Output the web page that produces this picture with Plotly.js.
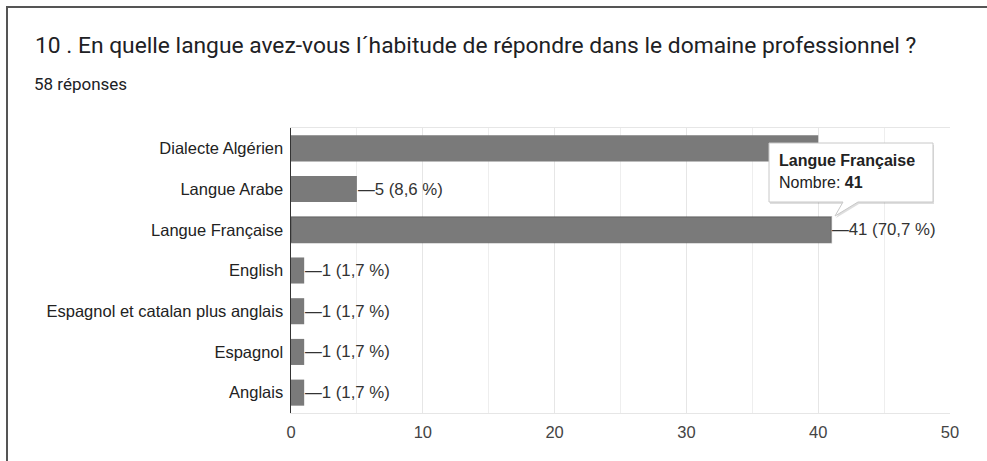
<!DOCTYPE html>
<html>
<head>
<meta charset="utf-8">
<script src="https://cdn.plot.ly/plotly-3.0.1.min.js"></script>
<style>
html,body{margin:0;padding:0;background:#fff;}
#chart{width:987px;height:461px;}
</style>
</head>
<body>
<div id="chart"></div>
<script>
// ---- data ----
const categories = ["Dialecte Algérien", "Langue Arabe", "Langue Française", "English",
  "Espagnol et catalan plus anglais", "Espagnol", "Anglais"];
const counts = [40, 5, 41, 1, 1, 1, 1];
const percents = ["69 %", "8,6 %", "70,7 %", "1,7 %", "1,7 %", "1,7 %", "1,7 %"];
const xTicks = [0, 10, 20, 30, 40, 50];
const titleText = "10 . En quelle langue avez-vous l´habitude de répondre dans le domaine professionnel ?";
const subtitleText = "58 réponses";
const tooltipTitle = "Langue Française";
const tooltipLabel = "Nombre";
const tooltipIndex = 2;
const hiddenLabelIndex = 0; // covered by the tooltip in the reference

// ---- layout helpers (pixel -> paper) ----
const W = 987, H = 461;
const L = 291, R = 950, T = 128, B = 413;
const px = x => (x - L) / (R - L);
const py = y => (B - y) / (B - T);

const barColors = categories.map(() => "#7a7a7a");
const lineW = categories.map((c, i) => i === tooltipIndex ? 1.5 : 0);
const lineC = categories.map((c, i) => i === tooltipIndex ? "rgba(60,60,60,0.35)" : "rgba(0,0,0,0)");

const trace = {
  type: "bar",
  orientation: "h",
  y: categories,
  x: counts,
  width: 0.64,
  marker: {color: barColors, line: {width: lineW, color: lineC}},
  hoverinfo: "none"
};

const labelFont = {family: "Liberation Sans, Arial, sans-serif", size: 16.8, color: "#333"};

const annotations = [];
categories.forEach((c, i) => {
  if (i === hiddenLabelIndex) return;
  annotations.push({
    x: counts[i], y: c, xref: "x", yref: "y",
    text: "—" + counts[i] + " (" + percents[i] + ")",
    showarrow: false, xanchor: "left", yanchor: "middle",
    xshift: -1, font: labelFont
  });
});

annotations.push({
  xref: "paper", yref: "paper", x: px(32), y: py(84),
  text: subtitleText, showarrow: false, xanchor: "left", yanchor: "middle",
  font: {family: "Roboto, sans-serif", size: 17, color: "#202124"}
});

annotations.push({
  xref: "paper", yref: "paper", x: px(777), y: py(160),
  text: "<b>" + tooltipTitle + "</b>", showarrow: false, xanchor: "left", yanchor: "middle",
  font: {family: "Liberation Sans, Arial, sans-serif", size: 16, color: "#222"}
});
annotations.push({
  xref: "paper", yref: "paper", x: px(777), y: py(182),
  text: tooltipLabel + ": <b>" + counts[tooltipIndex] + "</b>", showarrow: false, xanchor: "left", yanchor: "middle",
  font: {family: "Liberation Sans, Arial, sans-serif", size: 16, color: "#222"}
});

function calloutPath(dx, dy) {
  const pts = [[769,143],[933,143],[933,202],[858,202],[835,216],[843,202],[769,202]];
  return "M " + pts.map(p => px(p[0] + dx) + "," + py(p[1] + dy)).join(" L ") + " Z";
}

const shapes = [
  // frame
  {type: "line", xref: "paper", yref: "paper", x0: px(6), x1: px(987), y0: py(7), y1: py(7),
   line: {color: "#555", width: 2}, layer: "above"},
  {type: "line", xref: "paper", yref: "paper", x0: px(7), x1: px(7), y0: py(6), y1: py(461),
   line: {color: "#555", width: 2}, layer: "above"},
  // tooltip shadow + box
  {type: "path", xref: "paper", yref: "paper", path: calloutPath(1, 2),
   fillcolor: "rgba(0,0,0,0.13)", line: {width: 0}, layer: "above"},
  {type: "path", xref: "paper", yref: "paper", path: calloutPath(0, 0),
   fillcolor: "#ffffff", line: {color: "#c8c8c8", width: 1}, layer: "above"}
];

const layout = {
  width: W, height: H,
  margin: {l: L, r: W - R, t: T, b: H - B, pad: 0},
  paper_bgcolor: "#fff", plot_bgcolor: "#fff",
  showlegend: false,
  title: {
    text: titleText, xref: "container", yref: "container",
    x: 35 / W, y: 1 - 45 / H, xanchor: "left", yanchor: "middle",
    font: {family: "Roboto, sans-serif", size: 22.8, color: "#202124"}
  },
  xaxis: {
    range: [0, 50], tickvals: xTicks, ticktext: xTicks.map(String),
    showgrid: true, gridcolor: "#e6e6e6", gridwidth: 1,
    minor: {dtick: 5, tick0: 0, showgrid: true, gridcolor: "#eeeeee", gridwidth: 1},
    zeroline: false, showline: true, linecolor: "#e6e6e6", linewidth: 1, mirror: true,
    ticks: "", ticklabelstandoff: 4,
    tickfont: {family: "Liberation Sans, Arial, sans-serif", size: 16.5, color: "#444"},
    fixedrange: true
  },
  yaxis: {
    autorange: "reversed", type: "category",
    showgrid: false, zeroline: false,
    showline: true, linecolor: "#333", linewidth: 1.5,
    ticks: "", ticklabelstandoff: 3,
    tickfont: {family: "Liberation Sans, Arial, sans-serif", size: 16.5, color: "#222"},
    fixedrange: true
  },
  annotations: annotations,
  shapes: shapes,
  bargap: 0.36
};

Plotly.newPlot("chart", [trace], layout, {displayModeBar: false, staticPlot: true});
</script>
</body>
</html>
